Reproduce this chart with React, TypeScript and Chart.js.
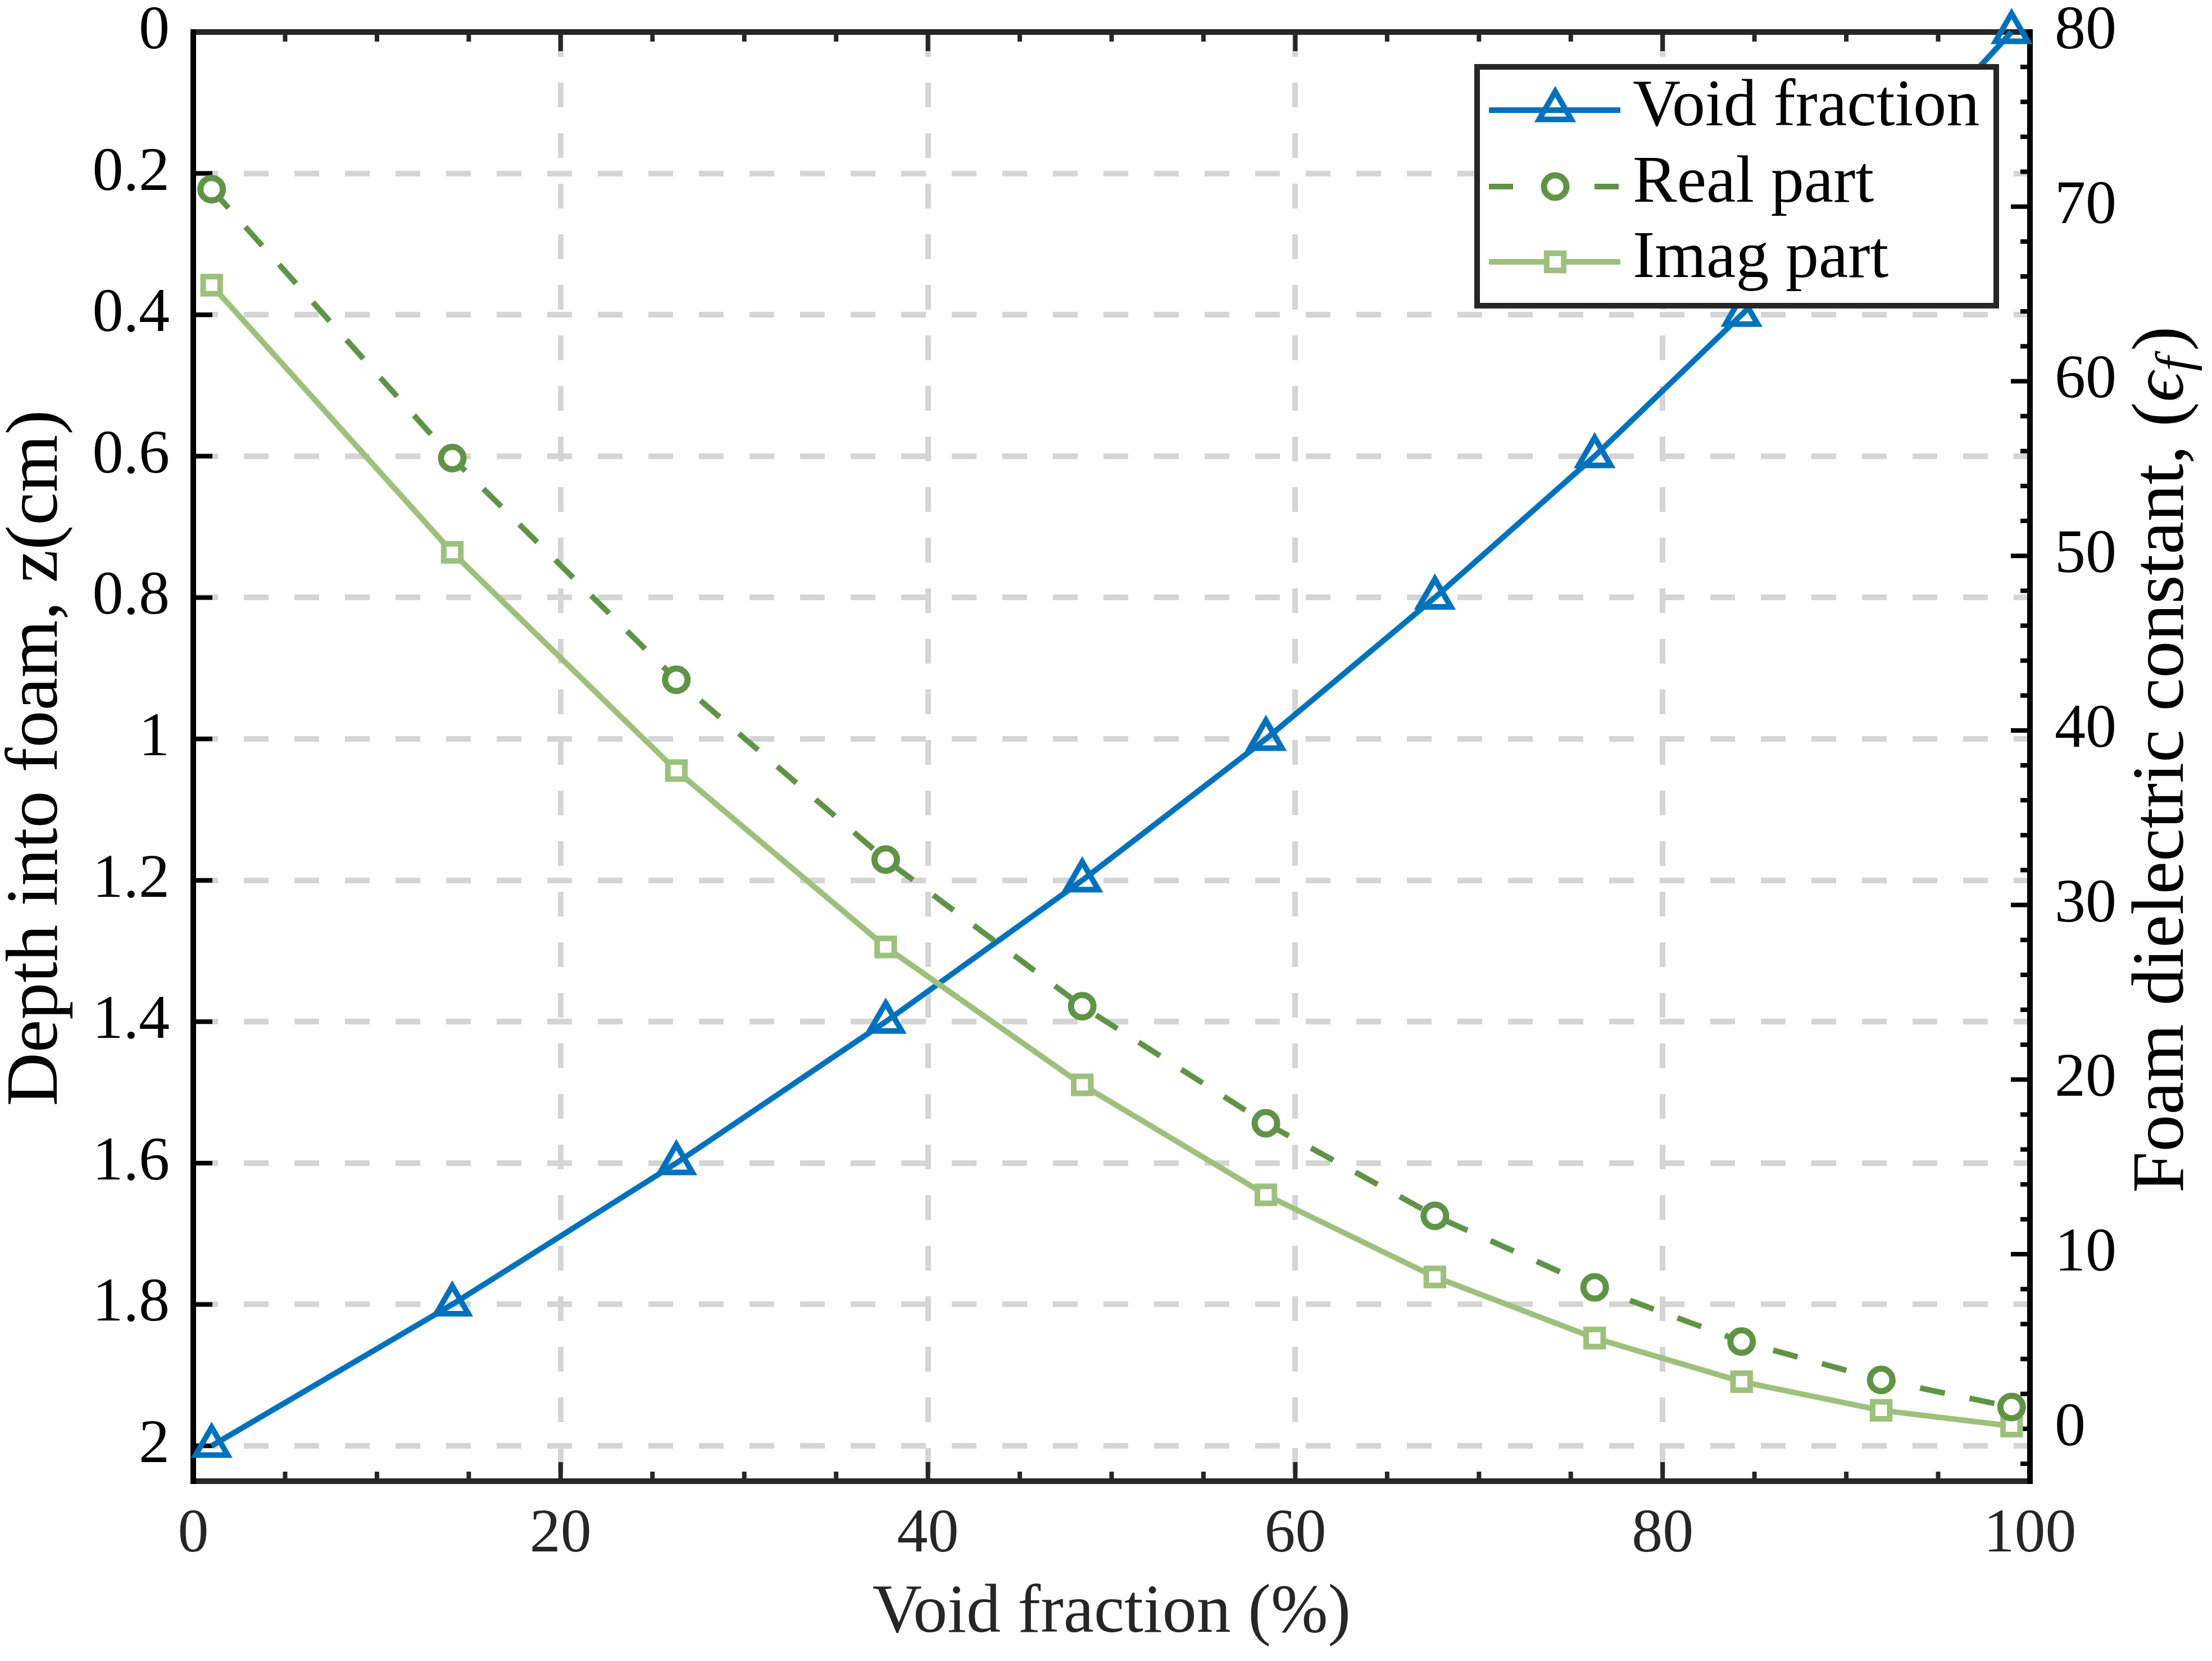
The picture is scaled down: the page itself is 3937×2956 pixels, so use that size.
import React, { useEffect, useRef } from 'react';
import { Chart, registerables } from 'chart.js';

Chart.register(...registerables);

const W = 3937;
const H = 2956;

// values
const voidFraction = [1.0, 14.1, 26.3, 37.7, 48.4, 58.4, 67.6, 76.3, 84.3, 91.9, 99.0];
const depthCm = [2.0, 1.8, 1.6, 1.4, 1.2, 1.0, 0.8, 0.6, 0.4, 0.2, 0.0];
const realPart = [71.0, 55.6, 42.9, 32.6, 24.2, 17.5, 12.2, 8.1, 5.0, 2.8, 1.25];
const imagPart = [65.5, 50.2, 37.7, 27.6, 19.7, 13.4, 8.7, 5.2, 2.7, 1.06, 0.16];

const xTicks = [0, 20, 40, 60, 80, 100];
const depthTicks = [0, 0.2, 0.4, 0.6, 0.8, 1, 1.2, 1.4, 1.6, 1.8, 2];
const epsTicks = [0, 10, 20, 30, 40, 50, 60, 70, 80];

const SERIF = "'Liberation Serif', 'Times New Roman', 'DejaVu Serif', serif";
const BLUE = '#0072BD';
const DARK_GREEN = '#5F9446';
const LIGHT_GREEN = '#9DC17C';
const GRID = '#d5d5d5';
const AXIS = '#262626';

// no label overflow padding, the plot box is fixed
const noPad = (s: any) => {
  s.paddingTop = 0;
  s.paddingBottom = 0;
  s.paddingLeft = 0;
  s.paddingRight = 0;
};

// axes box + inward ticks, drawn under the data like matlab does
const framePlugin = {
  id: 'frame',
  beforeDatasetsDraw(chart: any) {
    const { ctx, chartArea: a, scales } = chart;
    const sx = scales.x;
    const yl = scales.yL;
    const yr = scales.yR;
    ctx.save();
    ctx.setLineDash([]);
    ctx.lineCap = 'butt';

    const seg = (x1: number, y1: number, x2: number, y2: number, color: string, w: number) => {
      ctx.strokeStyle = color;
      ctx.lineWidth = w;
      ctx.beginPath();
      ctx.moveTo(x1, y1);
      ctx.lineTo(x2, y2);
      ctx.stroke();
    };

    // x ticks, bottom and top
    for (let v = 0; v <= 100; v += 5) {
      const px = sx.getPixelForValue(v);
      const len = xTicks.includes(v) ? 34 : 17;
      seg(px, a.bottom, px, a.bottom - len, AXIS, 8);
      seg(px, a.top, px, a.top + len, AXIS, 8);
    }
    // left ticks
    depthTicks.forEach((v) => {
      const py = yl.getPixelForValue(v);
      seg(a.left, py, a.left + 34, py, '#000', 8);
    });
    // right ticks, minor every 2
    for (let v = -2; v <= 80; v += 2) {
      const py = yr.getPixelForValue(v);
      const len = epsTicks.includes(v) ? 34 : 17;
      seg(a.right, py, a.right - len, py, '#000', 8);
    }

    seg(a.left - 5, a.bottom, a.right + 5, a.bottom, AXIS, 10);
    seg(a.left - 5, a.top, a.right + 5, a.top, AXIS, 10);
    seg(a.left, a.top - 5, a.left, a.bottom + 5, '#000', 10);
    seg(a.right, a.top - 5, a.right, a.bottom + 5, '#000', 10);
    ctx.restore();
  },
};

const drawMarker = (ctx: any, style: string, x: number, y: number, r: number, color: string, fill: string, bw: number) => {
  ctx.save();
  ctx.setLineDash([]);
  ctx.strokeStyle = color;
  ctx.fillStyle = fill;
  ctx.lineWidth = bw;
  ctx.beginPath();
  if (style === 'triangle') {
    ctx.moveTo(x, y - r);
    ctx.lineTo(x + r * Math.sin(Math.PI / 3), y + r / 2);
    ctx.lineTo(x - r * Math.sin(Math.PI / 3), y + r / 2);
    ctx.closePath();
  } else if (style === 'rect') {
    const s = r * Math.SQRT1_2;
    ctx.rect(x - s, y - s, 2 * s, 2 * s);
  } else {
    ctx.arc(x, y, r, 0, Math.PI * 2);
  }
  ctx.fill();
  ctx.stroke();
  ctx.restore();
};

const legendPlugin = {
  id: 'boxLegend',
  afterDatasetsDraw(chart: any) {
    const { ctx } = chart;
    const left = 2629;
    const top = 119;
    const right = 3553;
    const bottom = 544;
    ctx.save();
    ctx.fillStyle = '#fff';
    ctx.fillRect(left, top, right - left, bottom - top);
    ctx.setLineDash([]);
    ctx.lineWidth = 10;
    ctx.strokeStyle = AXIS;
    ctx.strokeRect(left, top, right - left, bottom - top);

    const rows = [196, 332, 466];
    const order = ['Void fraction', 'Real part', 'Imag part'];
    order.forEach((name, i) => {
      const ds = chart.data.datasets.find((d: any) => d.label === name);
      const y = rows[i];
      ctx.save();
      ctx.strokeStyle = ds.borderColor;
      ctx.lineWidth = ds.borderWidth;
      ctx.setLineDash(ds.borderDash ? [43, 145] : []);
      ctx.beginPath();
      ctx.moveTo(2650, y);
      ctx.lineTo(2884, y);
      ctx.stroke();
      ctx.restore();
      drawMarker(ctx, ds.pointStyle, 2768, y, ds.pointRadius, ds.pointBorderColor, ds.pointBackgroundColor, ds.pointBorderWidth);
      ctx.fillStyle = '#000';
      ctx.font = `118px ${SERIF}`;
      ctx.textAlign = 'left';
      ctx.textBaseline = 'middle';
      ctx.fillText(name, 2906, y - 4);
    });
    ctx.restore();
  },
};

const titlePlugin = {
  id: 'axisTitles',
  afterDraw(chart: any) {
    const { ctx, chartArea: a } = chart;
    ctx.save();
    ctx.textBaseline = 'middle';
    ctx.textAlign = 'center';

    ctx.fillStyle = AXIS;
    ctx.font = `122px ${SERIF}`;
    ctx.fillText('Void fraction (%)', (a.left + a.right) / 2, 2872);

    ctx.fillStyle = '#000';
    ctx.save();
    ctx.translate(66, 1349);
    ctx.rotate(-Math.PI / 2);
    ctx.font = `132px ${SERIF}`;
    ctx.fillText('Depth into foam, z(cm)', 0, 0);
    ctx.restore();

    // right label with subscript
    ctx.save();
    ctx.translate(3850, 1352);
    ctx.rotate(-Math.PI / 2);
    ctx.textAlign = 'left';
    const main = 'Foam dielectric constant, (';
    const fMain = `132px ${SERIF}`;
    const fIt = `italic 132px ${SERIF}`;
    const fSub = `italic 92px ${SERIF}`;
    ctx.font = fMain;
    const w1 = ctx.measureText(main).width;
    const w4 = ctx.measureText(')').width;
    ctx.font = fIt;
    const w2 = ctx.measureText('\u03F5').width;
    ctx.font = fSub;
    const w3 = ctx.measureText('f').width + 12;
    let x = -(w1 + w2 + w3 + w4) / 2;
    ctx.font = fMain;
    ctx.fillText(main, x, 0);
    x += w1;
    ctx.font = fIt;
    ctx.fillText('\u03F5', x, 0);
    x += w2;
    ctx.font = fSub;
    ctx.fillText('f', x + 2, 26);
    x += w3;
    ctx.font = fMain;
    ctx.fillText(')', x, 0);
    ctx.restore();

    ctx.restore();
  },
};

export default function App() {
  const canvasRef = useRef<HTMLCanvasElement>(null);
  const chartRef = useRef<Chart | null>(null);

  useEffect(() => {
    if (!canvasRef.current) return;
    if (chartRef.current) chartRef.current.destroy();

    const ctx = canvasRef.current.getContext('2d');
    if (!ctx) return;

    chartRef.current = new Chart(ctx, {
      type: 'line',
      data: {
        datasets: [
          {
            label: 'Real part',
            data: voidFraction.map((x, i) => ({ x, y: realPart[i] })),
            xAxisID: 'x',
            yAxisID: 'yR',
            borderColor: DARK_GREEN,
            borderWidth: 10,
            borderDash: [45, 45],
            pointStyle: 'circle',
            pointRadius: 20,
            pointBorderWidth: 11,
            pointBorderColor: DARK_GREEN,
            pointBackgroundColor: '#fff',
            clip: false,
          },
          {
            label: 'Imag part',
            data: voidFraction.map((x, i) => ({ x, y: imagPart[i] })),
            xAxisID: 'x',
            yAxisID: 'yR',
            borderColor: LIGHT_GREEN,
            borderWidth: 10,
            pointStyle: 'rect',
            pointRadius: 21.5,
            pointBorderWidth: 10,
            pointBorderColor: LIGHT_GREEN,
            pointBackgroundColor: '#fff',
            clip: false,
          },
          {
            label: 'Void fraction',
            data: voidFraction.map((x, i) => ({ x, y: depthCm[i] })),
            xAxisID: 'x',
            yAxisID: 'yL',
            borderColor: BLUE,
            borderWidth: 10,
            pointStyle: 'triangle',
            pointRadius: 33,
            pointBorderWidth: 10,
            pointBorderColor: BLUE,
            pointBackgroundColor: 'rgba(0,0,0,0)',
            clip: false,
          },
        ] as any,
      },
      options: {
        responsive: false,
        animation: false,
        devicePixelRatio: 1,
        events: [],
        layout: { padding: { top: 57, left: 0, right: 0, bottom: 0 } },
        plugins: {
          legend: { display: false },
          tooltip: { enabled: false },
        },
        scales: {
          x: {
            type: 'linear',
            position: 'bottom',
            min: 0,
            max: 100,
            afterBuildTicks: (s: any) => {
              s.ticks = xTicks.map((v) => ({ value: v }));
            },
            afterFit: (s: any) => {
              s.height = H - 2636;
              noPad(s);
            },
            grid: { color: GRID, lineWidth: 10, drawTicks: false },
            border: { display: false, dash: [44, 46] },
            ticks: {
              padding: 30,
              color: AXIS,
              font: { family: SERIF, size: 110 },
              callback: (v: any) => String(v),
            },
          },
          yL: {
            type: 'linear',
            position: 'left',
            reverse: true,
            min: 0,
            max: 2.05,
            afterBuildTicks: (s: any) => {
              s.ticks = depthTicks.map((v) => ({ value: v }));
            },
            afterFit: (s: any) => {
              s.width = 344;
              noPad(s);
            },
            grid: { color: GRID, lineWidth: 10, drawTicks: false },
            border: { display: false, dash: [44, 46] },
            ticks: {
              padding: 42,
              color: '#000',
              font: { family: SERIF, size: 110 },
              callback: (v: any) => String(+Number(v).toFixed(1)),
            },
          },
          yR: {
            type: 'linear',
            position: 'right',
            min: -3,
            max: 80,
            afterBuildTicks: (s: any) => {
              s.ticks = epsTicks.map((v) => ({ value: v }));
            },
            afterFit: (s: any) => {
              s.width = W - 3613;
              noPad(s);
            },
            grid: { display: false, drawTicks: false },
            border: { display: false },
            ticks: {
              padding: 44,
              color: '#000',
              font: { family: SERIF, size: 110 },
              callback: (v: any) => String(v),
            },
          },
        },
      } as any,
      plugins: [framePlugin, legendPlugin, titlePlugin],
    });

    return () => {
      if (chartRef.current) {
        chartRef.current.destroy();
        chartRef.current = null;
      }
    };
  }, []);

  return (
    <div style={{ position: 'absolute', left: 0, top: 0, width: W, height: H, background: '#fff' }}>
      <canvas ref={canvasRef} width={W} height={H} style={{ display: 'block', width: W, height: H }} />
    </div>
  );
}
